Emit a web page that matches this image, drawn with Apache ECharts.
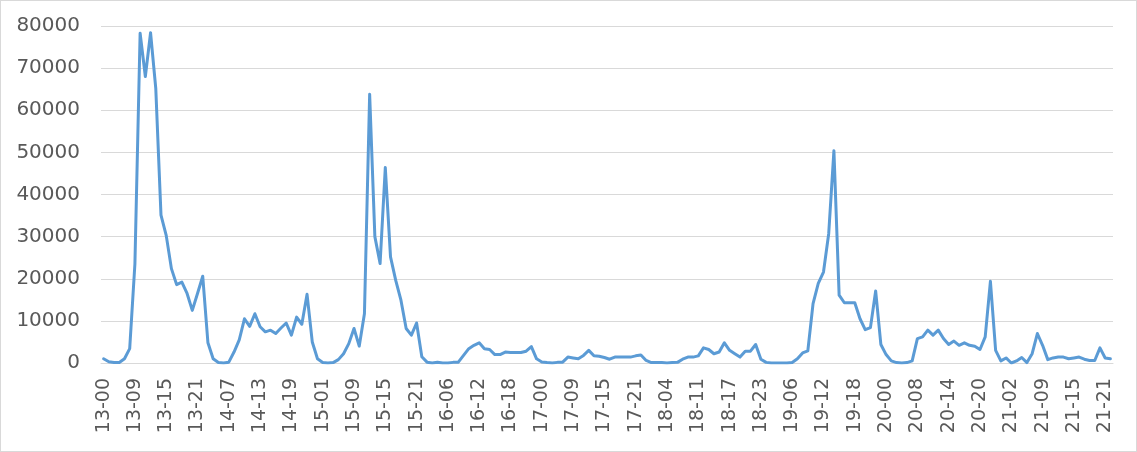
<!DOCTYPE html>
<html>
<head>
<meta charset="utf-8">
<script src="https://cdn.jsdelivr.net/npm/echarts@6/dist/echarts.min.js"></script>
<style>
html,body{margin:0;padding:0;background:#fff;}
#chart{width:1137px;height:452px;box-sizing:border-box;border:1px solid #d9d9d9;}
</style>
</head>
<body>
<div id="chart"></div>
<script>
// Category labels (day-hour)
const categories = [
  '13-00','13-01','13-02','13-03','13-07','13-08','13-09','13-10','13-11','13-12','13-13','13-14',
  '13-15','13-16','13-17','13-18','13-19','13-20','13-21','13-22','13-23','14-00','14-01','14-06',
  '14-07','14-08','14-09','14-10','14-11','14-12','14-13','14-14','14-15','14-16','14-17','14-18',
  '14-19','14-20','14-21','14-22','14-23','15-00','15-01','15-02','15-03','15-06','15-07','15-08',
  '15-09','15-10','15-11','15-12','15-13','15-14','15-15','15-16','15-17','15-18','15-19','15-20',
  '15-21','15-22','15-23','16-00','16-01','16-05','16-06','16-07','16-08','16-09','16-10','16-11',
  '16-12','16-13','16-14','16-15','16-16','16-17','16-18','16-19','16-20','16-21','16-22','16-23',
  '17-00','17-01','17-02','17-06','17-07','17-08','17-09','17-10','17-11','17-12','17-13','17-14',
  '17-15','17-16','17-17','17-18','17-19','17-20','17-21','17-22','17-23','18-00','18-01','18-03',
  '18-04','18-06','18-07','18-08','18-09','18-10','18-11','18-12','18-13','18-14','18-15','18-16',
  '18-17','18-18','18-19','18-20','18-21','18-22','18-23','19-00','19-01','19-02','19-04','19-05',
  '19-06','19-07','19-08','19-09','19-10','19-11','19-12','19-13','19-14','19-15','19-16','19-17',
  '19-18','19-19','19-20','19-21','19-22','19-23','20-00','20-01','20-02','20-05','20-06','20-07',
  '20-08','20-09','20-10','20-11','20-12','20-13','20-14','20-15','20-16','20-17','20-18','20-19',
  '20-20','20-21','20-22','20-23','21-00','21-01','21-02','21-03','21-05','21-06','21-07','21-08',
  '21-09','21-10','21-11','21-12','21-13','21-14','21-15','21-16','21-17','21-18','21-19','21-20',
  '21-21','21-22'
];

// Series values
const values = [
  1000,300,100,100,1000,3400,23500,78300,68000,78400,65200,35100,
  30300,22400,18600,19200,16500,12500,16500,20600,4800,1000,100,0,
  200,2600,5500,10500,8700,11700,8600,7400,7800,7000,8300,9500,
  6600,10900,9200,16300,5000,1000,100,0,100,800,2200,4600,
  8200,4000,11700,63800,30000,23600,46400,25200,19600,14900,8200,6600,
  9500,1500,200,0,200,0,0,150,200,1800,3400,4200,
  4800,3400,3200,2000,2000,2600,2500,2500,2500,2800,3900,1000,
  250,100,0,150,200,1400,1200,1000,1800,3000,1700,1600,
  1300,900,1400,1400,1400,1400,1700,1900,600,100,100,100,
  0,100,150,900,1400,1400,1700,3600,3200,2200,2600,4800,
  3000,2200,1400,2800,2800,4400,900,150,0,0,0,0,
  100,1000,2400,2900,14100,18900,21600,30700,50400,16100,14300,14300,
  14300,10500,7900,8400,17100,4400,2000,500,100,0,100,500,
  5800,6200,7800,6600,7800,5800,4400,5200,4200,4800,4200,4000,
  3200,6200,19400,3000,500,1200,0,500,1300,100,2200,7000,
  4200,800,1200,1400,1400,1000,1200,1400,900,600,600,3600,
  1200,1000
];

// Y-axis ticks
const yMin = 0, yMax = 80000, yStep = 10000;

const chart = echarts.init(document.getElementById('chart'), null, {renderer: 'canvas'});
chart.setOption({
  animation: false,
  backgroundColor: '#ffffff',
  grid: {left: 100, right: 23, top: 25, bottom: 88, containLabel: false},
  xAxis: {
    type: 'category',
    data: categories,
    boundaryGap: true,
    axisLine: {show: true, lineStyle: {color: '#d9d9d9', width: 1}},
    axisTick: {show: false},
    axisLabel: {
      interval: 5,
      rotate: 90,
      margin: 15,
      color: '#595959',
      fontFamily: 'DejaVu Sans',
      fontSize: 19
    },
    splitLine: {show: false}
  },
  yAxis: {
    type: 'value',
    min: yMin,
    max: yMax,
    interval: yStep,
    axisLine: {show: false},
    axisTick: {show: false},
    axisLabel: {
      margin: 21,
      color: '#595959',
      fontFamily: 'DejaVu Sans',
      fontSize: 20,
      formatter: function (v) { return String(v); }
    },
    splitLine: {lineStyle: {color: '#d9d9d9', width: 1}}
  },
  series: [{
    type: 'line',
    data: values,
    symbol: 'none',
    smooth: false,
    lineStyle: {color: '#5b9bd5', width: 3, join: 'round', cap: 'round'},
    itemStyle: {color: '#5b9bd5'}
  }]
});
</script>
</body>
</html>
